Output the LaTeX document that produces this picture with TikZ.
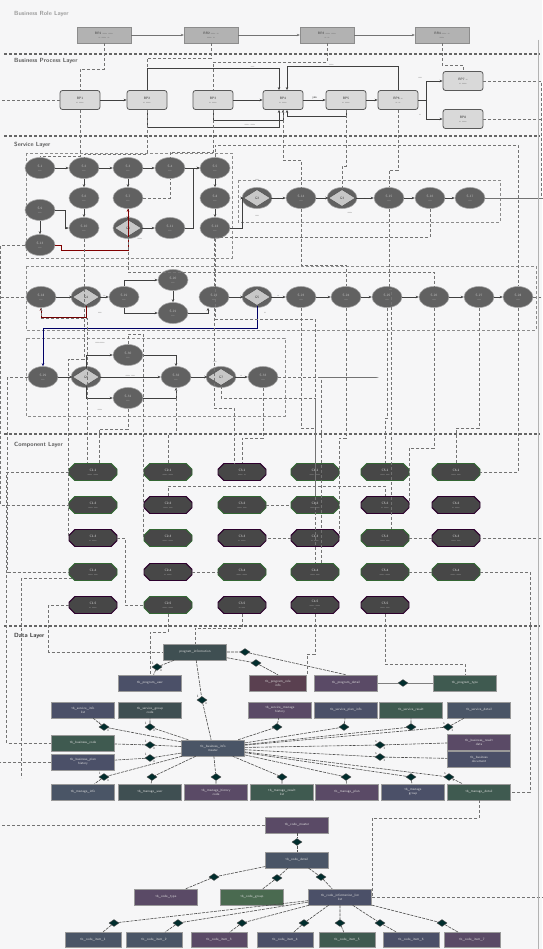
\documentclass[tikz,border=0pt]{standalone}
\usepackage{fontspec}
\usetikzlibrary{shapes.geometric,shapes.misc,arrows.meta}
\definecolor{bgc}{HTML}{F6F6F7}
\definecolor{tA}{HTML}{4B5068}
\definecolor{tB}{HTML}{3F4F52}
\definecolor{tC}{HTML}{5A4A66}
\definecolor{tD}{HTML}{3F5A50}
\definecolor{tE}{HTML}{4A5566}
\definecolor{tF}{HTML}{5A4050}
\definecolor{tG}{HTML}{4A6A50}
\newcommand\mytiny{\sffamily\fontsize{3.3}{3.8}\selectfont}
\begin{document}
\begin{tikzpicture}[x=1pt,y=-1pt,
 laytitle/.style={anchor=west,font=\sffamily\bfseries\fontsize{6}{7}\selectfont,text=black!65,inner sep=0},
 layersep/.style={line width=1.3pt,dash pattern=on 3pt off 2pt,black!60},
 brnode/.style={rectangle,fill=black!30,draw=black!45,minimum width=54pt,minimum height=16pt,inner sep=0,font=\mytiny,text=black!75,align=center},
 bpnode/.style={rectangle,rounded corners=2.5pt,fill=black!15,draw=black!65,line width=0.8pt,minimum width=40pt,minimum height=19pt,inner sep=0,font=\mytiny,text=black!80,align=center},
 svnode/.style={ellipse,fill=black!62,draw=black!35,line width=0.6pt,minimum width=30pt,minimum height=21pt,inner sep=0,font=\mytiny,text=black!25,align=center},
 gwdia/.style={diamond,fill=black!22,draw=black!70,line width=0.5pt,minimum width=27pt,minimum height=17pt,inner sep=0,font=\mytiny,text=black!80,align=center},
 cpnode/.style={chamfered rectangle,chamfered rectangle xsep=3pt,fill=black!72,draw=#1,line width=0.9pt,minimum width=48pt,minimum height=17pt,inner sep=0,font=\mytiny,text=black!12,align=center},
 cpnode/.default=green!25!black!80,
 tbnode/.style={rectangle,fill=#1,draw=black!40,line width=0.5pt,minimum width=63pt,minimum height=16pt,inner sep=0,font=\mytiny,text=black!12,align=center},
 tbnode/.default=tA,
 rel/.style={diamond,fill=teal!35!black,draw=black!70,minimum width=10pt,minimum height=7pt,inner sep=0},
 conn/.style={densely dashed,black!55,line width=0.45pt},
 flow/.style={black!75,line width=0.6pt,-{Stealth[length=3pt,width=2.5pt]}},
 rline/.style={dash pattern=on 3pt off 1pt,black!70,line width=0.6pt},
 lbl/.style={font=\mytiny,text=black!80,inner sep=0.5pt},
 grp/.style={densely dashed,black!45,line width=0.4pt}]
\fill[bgc] (0,0) rectangle (542,949);
\useasboundingbox (0,0) rectangle (542,949);

% ---------------- layer titles and separators
\node[laytitle,text=black!40] (tBR) at (14,14) {Business Role Layer};
\draw[layersep] (4,54) -- (540,54);
\node[laytitle] (tBP) at (14,61) {Business Process Layer};
\draw[layersep] (4,136) -- (540,136);
\node[laytitle] (tSV) at (14,145) {Service Layer};
\draw[layersep] (4,434) -- (540,434);
\node[laytitle] (tCP) at (14,445) {Component Layer};
\draw[layersep] (4,626) -- (540,626);
\node[laytitle,text=black!80] (tDT) at (14,636) {Data Layer};

% ---------------- business role
\node[brnode] (br1) at (104,35) {BR1 ---- ----\\-- ---- --};
\node[brnode] (br2) at (211,35) {BR2 ---- --\\---- --};
\node[brnode] (br3) at (327,35) {BR3 ---- ----\\-- --};
\node[brnode] (br4) at (442,35) {BR4 ---- --\\----};
\draw[flow,black!55] (br1) -- (br2);
\draw[flow,black!55] (br2) -- (br3);
\draw[flow,black!55] (br3) -- (br4);

% ---------------- business process
\node[bpnode] (bp1) at (80,100) {BP1\\-- ----};
\node[bpnode] (bp2) at (147,100) {BP2\\-- ----};
\node[bpnode] (bp3) at (213,100) {BP3\\-- ----};
\node[bpnode] (bp4) at (283,100) {BP4\\-- ----};
\node[bpnode] (bp5) at (346,100) {BP5\\-- ----};
\node[bpnode] (bp6) at (398,100) {BP6 --\\-- --};
\node[bpnode] (bp7) at (463,81) {BP7 --\\-- ----};
\node[bpnode] (bp8) at (463,119) {BP8\\-- ----};
\draw[conn] (br1.south) -- ++(0,26) -| (bp1.north);
\draw[conn] (br2.south) -- ++(0,15) -| (bp2.north);
\draw[conn] (br3.south) -- ++(0,19) -| (bp3.north);
\draw[conn] (br4.south) -- ++(0,22) -| (bp7.north);
\draw[flow] (bp1) -- (bp2);
\draw[flow] (bp3) -- (bp4);
\draw[flow] (bp4) -- node[lbl,above]{yes} (bp5);
\draw[flow] (bp5) -- (bp6);
\draw[flow] (bp6.east) -- ++(8,0) |- (bp7.west);
\draw[flow] (bp6.east) -- ++(8,0) |- (bp8.west);
\draw[flow] (bp2.north) -- ++(0,-22) -| node[lbl,pos=0.4,above]{---} ([xshift=-4pt]bp4.north);
\draw[flow] (bp6.north) -- ++(0,-24) -| node[lbl,pos=0.3,above]{----} ([xshift=4pt]bp4.north);
\draw[flow] (bp2.south) -- ++(0,17) -| ([xshift=-4pt]bp4.south);
\draw[flow] (bp3.south) -- ++(0,10) -| (bp4.south);
\draw[flow] (bp5.south) -- ++(0,6) -| ([xshift=4pt]bp4.south);
\node[lbl] (l1) at (250,125) {---- ----};
\node[lbl] (l2) at (420,78) {--\\--};
\node[lbl] (l3) at (420,115) {--};

% ---------------- service layer groups
\draw[grp] (26,153) rectangle (232,258);
\draw[grp] (238,180) rectangle (500,222);
\draw[grp] (26,266) rectangle (536,330);
\draw[grp] (26,338) rectangle (285,416);

% ---------------- service nodes
\node[svnode] (sA1) at (40,168) {S-1\\---};
\node[svnode] (sA2) at (84,168) {S-2\\---};
\node[svnode] (sA3) at (128,168) {S-3\\---};
\node[svnode] (sA4) at (170,168) {S-4\\---};
\node[svnode] (sA5) at (215,168) {S-5\\---};
\node[svnode] (sB2) at (84,198) {S-6\\---};
\node[svnode] (sB3) at (128,198) {S-7\\---};
\node[svnode] (sB5) at (215,198) {S-8\\---};
\node[svnode] (sL1) at (40,210) {S-9\\---};
\node[svnode] (sC2) at (84,228) {S-10\\---};
\node[svnode] (gC3) at (128,228) {};
\node[gwdia] (gC3d) at (128,228) {G1};
\node[svnode] (sC4) at (170,228) {S-11\\---};
\node[svnode] (sC5) at (215,228) {S-12\\---};
\node[svnode] (sL2) at (40,245) {S-13\\---};
\node[svnode] (gB6) at (257,198) {};
\node[gwdia] (gB6d) at (257,198) {G2};
\node[svnode] (sB7) at (301,198) {S-14\\---};
\node[svnode] (gB8) at (342,198) {};
\node[gwdia] (gB8d) at (342,198) {G3};
\node[svnode] (sB9) at (389,198) {S-15\\---};
\node[svnode] (sB10) at (430,198) {S-16\\---};
\node[svnode] (sB11) at (470,198) {S-17\\---};

\node[svnode] (sD1) at (41,297) {S-18\\---};
\node[svnode] (gD2) at (86,297) {};
\node[gwdia] (gD2d) at (86,297) {G4};
\node[svnode] (sD3) at (124,297) {S-19\\---};
\node[svnode] (sD4a) at (173,280) {S-20\\---};
\node[svnode] (sD4b) at (173,313) {S-21\\---};
\node[svnode] (sD5) at (214,297) {S-22\\---};
\node[svnode] (gD6) at (257,297) {};
\node[gwdia] (gD6d) at (257,297) {G5};
\node[svnode] (sD7) at (301,297) {S-23\\---};
\node[svnode] (sD8) at (346,297) {S-24\\---};
\node[svnode] (sD9) at (387,297) {S-25\\---};
\node[svnode] (sD10) at (434,297) {S-26\\---};
\node[svnode] (sD11) at (479,297) {S-27\\---};
\node[svnode] (sD12) at (518,297) {S-28\\---};

\node[svnode] (sE1) at (43,377) {S-29\\---};
\node[svnode] (gE2) at (86,377) {};
\node[gwdia] (gE2d) at (86,377) {G6};
\node[svnode] (sE3a) at (128,355) {S-30\\---};
\node[svnode] (sE3b) at (128,398) {S-31\\---};
\node[svnode] (sE4) at (176,377) {S-32\\---};
\node[svnode] (gE5) at (221,377) {};
\node[gwdia] (gE5d) at (221,377) {G7};
\node[svnode] (sE6) at (263,377) {S-33\\---};

% service flows
\draw[flow] (sA1) -- (sA2);
\draw[flow] (sA2) -- (sA3);
\draw[flow] (sA3) -- (sA4);
\draw[flow] (sA4) -- (sA5);
\draw[flow] (sA2) -- (sB2);
\draw[flow] (sB2) -- (sC2);
\draw[flow] (sA3) -- (sB3);
\draw[flow] (sB3) -- (gC3d);
\draw[flow] (gC3d) -- (sC4);
\draw[flow] (sA5) -- (sB5);
\draw[flow] (sB5) -- (sC5);
\draw[flow] (sL1) -- (sL2);
\draw[flow] (sL1.east) -- ++(10,0) |- (sC2.west);
\draw[flow] (sC4.east) -- ++(8,0) |- (sA5.west);
\draw[flow] (sC5.east) -- ++(12,0) |- (gB6d.west);
\draw[flow] (gB6d) -- node[lbl,below]{--} (sB7);
\draw[flow] (sB7) -- (gB8d);
\draw[flow] (gB8d) -- node[lbl,below]{--} (sB9);
\draw[flow] (sB9) -- (sB10);
\draw[flow] (sB10) -- (sB11);
\draw[flow,red!50!black] (sL2.east) -- ++(6,0) -- ++(0,5) -| (sB3.south);
\node[lbl] (gl1) at (257,180) {--\\--};
\node[lbl] (gl2) at (257,216) {--\\--};
\node[lbl] (gl3) at (350,213) {----};
\node[lbl] (gl4) at (140,239) {----};

\draw[flow] (sD1) -- (gD2d);
\draw[flow] (gD2d) -- node[lbl,above]{--} (sD3);
\draw[flow] (sD3.north) |- (sD4a.west);
\draw[flow] (sD3.south) |- (sD4b.west);
\draw[flow] (sD4a) -- (sD4b);
\draw[flow] (sD4b.east) -| ([xshift=-6pt]sD5.south);
\draw[flow] (sD5) -- (gD6d);
\draw[flow] (gD6d) -- node[lbl,above]{--} (sD7);
\draw[flow] (sD7) -- (sD8);
\draw[flow] (sD8) -- (sD9);
\draw[flow] (sD9) -- (sD10);
\draw[flow] (sD10) -- (sD11);
\draw[flow] (sD11) -- (sD12);
\draw[flow,red!45!black] (gD2d.south) -- ++(0,12) -| (sD1.south);
\draw[flow,blue!40!black] (gD6d.south) -- ++(0,23) -| (sE1.north);
\node[lbl] (dl1) at (100,313) {---};
\node[lbl] (dl2) at (265,313) {--};

\draw[flow] (sE1) -- (gE2d);
\draw[flow] (gE2d.north) |- (sE3a.west);
\draw[flow] (gE2d.south) |- (sE3b.west);
\draw[flow] (gE2d) -- node[lbl,above]{---- ---} (sE4);
\draw[flow] (sE3a.east) -| (sE4.north);
\draw[flow] (sE3b.east) -| (sE4.south);
\draw[flow] (sE4) -- (gE5d);
\draw[flow] (gE5d) -- node[lbl,above]{--} (sE6);
\node[lbl] (el1) at (100,343) {----\\----};
\node[lbl] (el2) at (100,410) {----};
\node[lbl] (el3) at (215,362) {---};

% process -> service
\draw[conn] (bp1.south) -- ++(0,46) -| (sA1.north);
\draw[conn] (bp2.south) -- ++(0,44) -| (sA2.north);
\draw[conn] (bp3.south) -- ++(0,42) -| (sA4.north);
\draw[conn] (bp4.south) -- ++(0,50) -| (sB7.north);
\draw[conn] (bp5.south) -- ++(0,56) -| (gB8d.north);
\draw[conn] (bp6.south) -- ++(0,60) -| (sB9.north);
\draw[conn] (bp8.east) -- ++(70,0) |- (sD12.east);
\draw[conn] (bp7.east) -- ++(58,0) |- (sB11.east);
\draw[conn] (bp1.west) -- ++(-66,0) |- (sD1.west);

% extra service-level cross links
\draw[conn] (sB10.south) -- ++(0,28) -| (sD5.north);
\draw[conn] (sB7.south) -- ++(0,56) -| (sD8.north);
\draw[conn] (gC3d.south) -- ++(0,35) -| (sD10.north);
\draw[conn] (sB3.east) -| (sA4.south);

% ---------------- component layer
\node[cpnode] (c11) at (93,472) {C1-1\\---- ----};
\node[cpnode] (c12) at (93,505) {C1-2\\---- ---};
\node[cpnode=violet!35!black] (c13) at (93,538) {C1-3\\-- ----};
\node[cpnode] (c14) at (93,572) {C1-4\\---- ---};
\node[cpnode=violet!35!black] (c15) at (93,605) {C1-5\\-- ----};
\node[cpnode] (c21) at (168,472) {C2-1\\---- ----};
\node[cpnode=violet!35!black] (c22) at (168,505) {C2-2\\---- ---};
\node[cpnode] (c23) at (168,538) {C2-3\\---- ----};
\node[cpnode=violet!35!black] (c24) at (168,572) {C2-4\\-- ----};
\node[cpnode] (c25) at (168,605) {C2-5\\---- ----};
\node[cpnode=violet!35!black] (c31) at (242,472) {C3-1\\---- --};
\node[cpnode] (c32) at (242,505) {C3-2\\---- ---};
\node[cpnode=violet!35!black] (c33) at (242,538) {C3-3\\-- ----};
\node[cpnode] (c34) at (242,572) {C3-4\\---- ----};
\node[cpnode=violet!35!black] (c35) at (242,605) {C3-5\\-- ---};
\node[cpnode] (c41) at (315,472) {C4-1\\---- ----};
\node[cpnode] (c42) at (315,505) {C4-2\\---- ---};
\node[cpnode=violet!35!black] (c43) at (315,538) {C4-3\\-- ----};
\node[cpnode] (c44) at (315,572) {C4-4\\---- ---};
\node[cpnode=violet!35!black] (c45) at (315,605) {C4-5\\---- ----\\--};
\node[cpnode] (c51) at (385,472) {C5-1\\---- ---};
\node[cpnode=violet!35!black] (c52) at (385,505) {C5-2\\-- ----};
\node[cpnode] (c53) at (385,538) {C5-3\\---- ---};
\node[cpnode] (c54) at (385,572) {C5-4\\---- ----};
\node[cpnode=violet!35!black] (c55) at (385,605) {C5-5\\---- ---};
\node[cpnode] (c61) at (456,472) {C6-1\\---- ---};
\node[cpnode=violet!35!black] (c62) at (456,505) {C6-2\\-- ----};
\node[cpnode=violet!35!black] (c63) at (456,538) {C6-3\\---- ---};
\node[cpnode] (c64) at (456,572) {C6-4\\---- ----};

% service -> component
\draw[conn] (sE6.east) -- ++(100,0) -| ([xshift=6pt]c44.north);
\draw[conn] (sL2.west) -- ++(-24,0) |- (c12.west);
\draw[conn] (sE1.west) -- ++(-20,0) |- (c14.west);
\draw[conn] (sD1.south) -- ++(0,10) -| ([xshift=-6pt]c11.north);
\draw[conn] (sE3b.south) -- ++(0,20) -| ([xshift=6pt]c11.north);
\draw[conn] (sE4.south) -- ++(0,46) -| (c21.north);
\draw[conn] (sC2.south) -- ++(0,120) -| (c13.west);
\draw[conn] (sE6.south) -- ++(0,50) -| (c31.north);
\draw[conn] (sD5.south) -- ++(0,100) -| ([xshift=-8pt]c31.north);
\draw[conn] (sD7.south) -- ++(0,120) -| (c41.north);
\draw[conn] (sD8.south) -- ++(0,130) -| (c43.east);
\draw[conn] (sD9.south) -- ++(0,110) -| (c51.north);
\draw[conn] (sD10.south) -- ++(0,140) -| (c52.east);
\draw[conn] (sD11.south) -- ++(0,120) -| (c61.north);
\draw[conn] (sD12.south) |- (c61.east);
\draw[conn] (sB11.east) -- ++(58,0) |- (c63.east);
\draw[conn] (sC5.south) -- ++(0,80) -| (c42.north);
\draw[conn] (sB9.south) -- ++(0,80) -| ([xshift=6pt]c53.north);
\draw[conn] (sA5.north) -- ++(0,-12) -| (sD12.north);
\draw[conn] (gE5d.south) -- ++(0,12) -| (c44.north);
\draw[conn] (sE3a.north) -- ++(0,-10) -| (c23.west);

% component internal links
\draw[conn] (c32.east) -- (c42.west);
\draw[conn] (c43.west) -- ++(-8,0) |- (c33.east);
\draw[conn] (c24.east) -- (c34.west);
\draw[conn] (c13.east) -- ++(8,0) |- (c25.west);
\draw[conn] (c53.east) -- (c63.west);
\draw[conn] (c22.north) -- ++(0,-10) -| (c52.north);
\draw[conn] (c54.east) -- ++(10,0) |- (c64.west);

% ---------------- data layer
\node[tbnode=tB] (tP) at (195,652) {program\_information};
\node[tbnode=tA] (t1a) at (150,683) {tb\_program\_user};
\node[tbnode=tF,minimum width=57pt] (t1b) at (278,683) {tb\_program\_role\\info};
\node[tbnode=tC] (t1c) at (346,683) {tb\_program\_detail};
\node[tbnode=tD] (t1d) at (465,683) {tb\_program\_type};
\node[tbnode=tA] (t2a) at (83,710) {tb\_service\_info\\list};
\node[tbnode=tB] (t2b) at (150,710) {tb\_service\_group\\code};
\node[tbnode=tC] (t2c) at (280,710) {tb\_service\_manage\\history};
\node[tbnode=tA] (t2d) at (346,710) {tb\_service\_plan\_info};
\node[tbnode=tD] (t2e) at (411,710) {tb\_service\_result};
\node[tbnode=tE] (t2f) at (479,710) {tb\_service\_detail};
\node[tbnode=tE] (tCn) at (213,748) {tb\_business\_info\\master};
\node[tbnode=tD] (tL1) at (83,743) {tb\_business\_code};
\node[tbnode=tA] (tL2) at (83,762) {tb\_business\_plan\\history};
\node[tbnode=tC] (tR1) at (479,742) {tb\_business\_result\\data};
\node[tbnode=tA] (tR2) at (479,759) {tb\_business\\document};
\node[tbnode=tE] (b1) at (83,792) {tb\_manage\_info};
\node[tbnode=tB] (b2) at (150,792) {tb\_manage\_user};
\node[tbnode=tC] (b3) at (216,792) {tb\_manage\_history\\code};
\node[tbnode=tD] (b4) at (282,792) {tb\_manage\_result\\list};
\node[tbnode=tC] (b5) at (347,792) {tb\_manage\_plan};
\node[tbnode=tA] (b6) at (413,792) {tb\_manage\\group};
\node[tbnode=tD] (b7) at (479,792) {tb\_manage\_detail};

% relationships
\node[rel] (r1) at (157,667) {};
\node[rel] (r2) at (245,652) {};
\node[rel] (r3) at (256,663) {};
\node[rel] (r4) at (202,700) {};
\node[rel] (r5) at (403,683) {};
\draw[rline] (tP) -- (r1) -- (t1a);
\draw[rline] (tP) -- (r2) -- (t1c.north);
\draw[rline] (tP) -- (r3) -- (t1b.north);
\draw[rline] (tP) -- (r4) -- (tCn);
\draw[black!50,line width=0.8pt] (t1c) -- (r5) -- (t1d);
\node[rel] (q1) at (104,727) {};
\node[rel] (q2) at (150,727) {};
\node[rel] (q3) at (277,727) {};
\node[rel] (q4) at (344,727) {};
\node[rel] (q5) at (411,727) {};
\node[rel] (q6) at (448,727) {};
\node[rel] (q7) at (150,745) {};
\node[rel] (q8) at (150,758) {};
\node[rel] (q9) at (380,745) {};
\node[rel] (q10) at (380,757) {};
\foreach \q/\t in {q1/t2a,q2/t2b,q3/t2c,q4/t2d,q5/t2e,q6/t2f,q7/tL1,q8/tL2,q9/tR1,q10/tR2}
  \draw[rline] (tCn) -- (\q) -- (\t);
\node[rel] (p1) at (104,777) {};
\node[rel] (p2) at (152,777) {};
\node[rel] (p3) at (216,777) {};
\node[rel] (p4) at (282,777) {};
\node[rel] (p5) at (346,777) {};
\node[rel] (p6) at (411,777) {};
\node[rel] (p7) at (449,777) {};
\foreach \p/\t in {p1/b1,p2/b2,p3/b3,p4/b4,p5/b5,p6/b6,p7/b7}
  \draw[rline] (tCn) -- (\p) -- (\t);
\foreach \r/\a/\b in {r1/1/n,r4/1/n,q1/1/n,q2/1/n,q7/1/n,q8/1/n,q9/n/1,q10/n/1,p1/1/n,p7/n/1,q6/n/1}{
  \node[lbl,anchor=south east] at (\r.north west) {\a};
  \node[lbl,anchor=north west] at (\r.south east) {\b};
}

% component -> data
\draw[conn] (c35.south) -- ++(0,14) -| (tP.north);
\draw[conn] (c25.south) -- ++(0,18) -| (t1a.north);
\draw[conn] (c45.south) -- ++(0,40) -| (t1b.north east);
\draw[conn] (c55.south) -- ++(0,50) -| (t1d.north);
\draw[conn] (c64.east) -- ++(50,0) |- (b7.east);
\draw[conn] (c15.west) -- ++(-20,0) |- (tP.west);
\draw[conn] (c14.south west) -- ++(-50,0) -- ++(0,200) coordinate (lc);
\draw[conn] (c11.west) -- ++(-62,0) |- (tL1.west);

% ---------------- bottom group
\node[tbnode=tC] (u1) at (297,825) {tb\_code\_master};
\node[tbnode=tE] (u2) at (297,860) {tb\_code\_detail};
\node[rel] (du1) at (297,842) {};
\draw[rline] (u1) -- (du1) -- (u2);
\node[tbnode=tC] (v1) at (166,897) {tb\_code\_type};
\node[tbnode=tG] (v2) at (252,897) {tb\_code\_group};
\node[tbnode=tA] (v3) at (340,897) {tb\_code\_information\_list\\list};
\node[rel] (du2) at (214,877) {};
\node[rel] (du3) at (277,878) {};
\node[rel] (du4) at (321,877) {};
\draw[rline] (u2) -- (du2) -- (v1);
\draw[rline] (u2) -- (du3) -- (v2);
\draw[rline] (u2) -- (du4) -- (v3);
\foreach \i/\x/\dx/\c in {1/93/114/tE,2/154/178/tE,3/219/242/tC,4/285/304/tA,5/347/340/tD,6/411/380/tA,7/472/442/tC}{
  \node[tbnode=\c,minimum width=56pt,minimum height=15pt] (w\i) at (\x,940) {tb\_code\_item\_\i};
  \node[rel] (dw\i) at (\dx,923) {};
  \draw[rline] (v3) -- (dw\i) -- (w\i);
}
\draw[conn] (tL2.west) -- ++(-58,0) |- (u1.west);
\draw[conn] (b7.south) -- ++(0,18) -| (v3.east);
\draw[conn] (v3.east) -- ++(195,0);
\draw[black!30,line width=0.5pt] (538,40) -- (538,949);
\end{tikzpicture}
\end{document}
